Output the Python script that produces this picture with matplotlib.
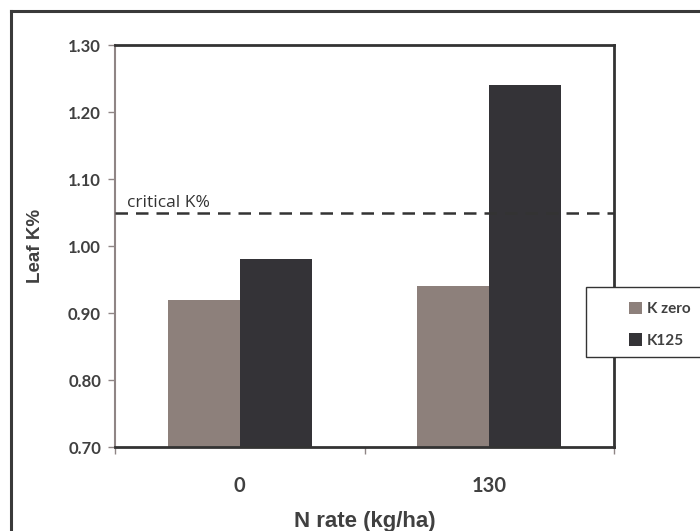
import matplotlib.pyplot as plt
import numpy as np
from matplotlib.lines import Line2D
from matplotlib.patches import Rectangle

# data
n_rates = ['0', '130']
k_zero = [0.92, 0.94]
k125 = [0.98, 1.24]
critical_k = 1.05
y_ticks = [0.70, 0.80, 0.90, 1.00, 1.10, 1.20, 1.30]

c_zero = '#8d807b'
c_125 = '#343337'
c_text = '#404040'
c_axis = '#8f8585'

fig = plt.figure(figsize=(7.0, 5.31), dpi=100)

# outer chart border (left + top, rest runs off the picture)
fig.add_artist(Line2D([11 / 700, 11 / 700], [0, 1 - 11 / 531],
                      transform=fig.transFigure, color='#3a3a3a', lw=2.2))
fig.add_artist(Line2D([11 / 700, 1], [1 - 11 / 531, 1 - 11 / 531],
                      transform=fig.transFigure, color='#3a3a3a', lw=2.2))

ax = fig.add_axes([115 / 700, 84 / 531, 499 / 700, 402 / 531])

x = np.arange(len(n_rates))
w = 0.288
ax.bar(x - w / 2, k_zero, width=w, color=c_zero, label='K zero', zorder=2)
ax.bar(x + w / 2, k125, width=w, color=c_125, label='K125', zorder=2)

# critical level
ax.axhline(critical_k, color='#333333', lw=1.8, dashes=(5, 3.2), zorder=3)
ax.text(-0.45, critical_k + 0.002, 'critical K%', fontsize=12.5,
        family='Open Sans', color='#333333', va='bottom', ha='left')

ax.set_ylim(0.70, 1.30)
ax.set_xlim(-0.5, 1.5)
ax.set_yticks(y_ticks)
ax.set_yticklabels(['{:.2f}'.format(v) for v in y_ticks],
                   fontsize=12, fontweight='bold', family='Lato', color=c_text)
ax.tick_params(axis='y', direction='out', length=5, width=1, color=c_axis, pad=5)

# category boundaries get ticks, category labels sit in between
ax.set_xticks([-0.5, 0.5, 1.5])
ax.set_xticklabels([])
ax.tick_params(axis='x', which='major', direction='out', length=5, width=1, color=c_axis)
ax.set_xticks(x, minor=True)
ax.set_xticklabels(n_rates, minor=True, fontsize=14.5, fontweight='bold',
                   family='Lato', color=c_text)
ax.tick_params(axis='x', which='minor', length=0, pad=21)

for side in ['top', 'right', 'bottom']:
    ax.spines[side].set_color('#333333')
    ax.spines[side].set_linewidth(2)
ax.spines['left'].set_color(c_axis)
ax.spines['left'].set_linewidth(1.5)

ax.set_ylabel('Leaf K%', fontsize=13.5, fontweight='bold', family='Liberation Sans',
              color=c_text, labelpad=17)
ax.set_xlabel('N rate (kg/ha)', fontsize=16, fontweight='bold', family='Liberation Sans',
              color=c_text, labelpad=11)

# legend box runs off the right edge, so the frame is drawn by hand
ax.add_patch(Rectangle((586 / 700, 1 - 357 / 531), 130 / 700, 70 / 531,
                       transform=fig.transFigure, facecolor='white',
                       edgecolor='#333333', lw=1, zorder=4, clip_on=False))
leg = ax.legend(loc='upper left', bbox_to_anchor=(614 / 700, 1 - 287 / 531),
                bbox_transform=fig.transFigure, frameon=False,
                handlelength=0.85, handleheight=0.85, handletextpad=0.35,
                labelspacing=1.15, borderpad=0.95, borderaxespad=0,
                prop={'family': 'Lato', 'weight': 'bold', 'size': 11})
leg.set_zorder(6)
for t in leg.get_texts():
    t.set_color(c_text)

fig.savefig('out.png', dpi=100)
